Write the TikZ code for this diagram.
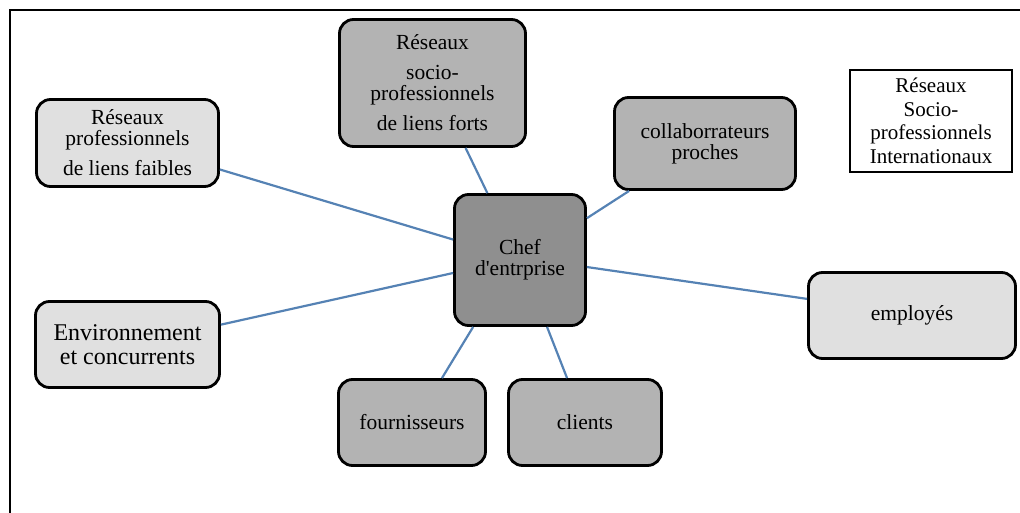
\documentclass[tikz,border=0pt]{standalone}
\usepackage{fontspec}
\setmainfont{Liberation Serif}
\usepackage{tikz}
\usetikzlibrary{positioning}

\definecolor{lightbox}{HTML}{E0E0E0}
\definecolor{midbox}{HTML}{B3B3B3}
\definecolor{darkbox}{HTML}{8F8F8F}
\definecolor{linkblue}{HTML}{5582B4}

\begin{document}
\begin{tikzpicture}[x=1pt,y=-1pt,
		box/.style={draw,line width=2.8pt,rounded corners=14pt,align=center,
			font=\fontsize{21.5}{21}\selectfont,inner sep=2pt},
		light box/.style={box,fill=lightbox},
		mid box/.style={box,fill=midbox},
		link/.style={draw=linkblue,line width=2.2pt}]
	\useasboundingbox (0,0) rectangle (1020,513);
	% open frame
	\draw[line width=2.4pt] (10,513) -- (10,10) -- (1020,10);
	
	\node[light box,minimum width=182pt,minimum height=87pt] (faibles) at (127.5,143)
		{Réseaux\\professionnels\\[9pt]de liens faibles};
	\node[mid box,minimum width=186pt,minimum height=127pt] (forts) at (432.5,83)
		{Réseaux\\[9pt]socio-\\professionnels\\[9pt]de liens forts};
	\node[mid box,minimum width=181pt,minimum height=92pt] (collab) at (705,143.5)
		{collaborrateurs\\proches};
	\node[draw,line width=1.5pt,minimum width=162pt,minimum height=102pt,align=center,
		font=\fontsize{21}{23.5}\selectfont] (intl) at (931,121)
		{Réseaux\\Socio-\\professionnels\\Internationaux};
	\node[box,fill=darkbox,minimum width=131pt,minimum height=131pt] (chef) at (520,260)
		{Chef\\d\textquotesingle entrprise};
	\node[light box,minimum width=184pt,minimum height=86pt,
		font=\fontsize{24}{24}\selectfont] (env) at (127.5,344.5)
		{Environnement\\et concurrents};
	\node[light box,minimum width=207pt,minimum height=86pt] (employes) at (912,315.5)
		{employés};
	\node[mid box,minimum width=147pt,minimum height=86pt] (fourn) at (412,422.5)
		{fournisseurs};
	\node[mid box,minimum width=153pt,minimum height=86pt] (clients) at (585,422.5)
		{clients};
	
	\path[link]
	(faibles.-16.3) edge (chef.163.4)
	(forts.-63.4) edge (chef.116.2)
	(collab.212.2) edge (chef.32.1)
	(chef.-6.7) edge (employes.171.6)
	(env.12.9) edge (chef.191)
	(fourn.56.9) edge (chef.235.5)
	(clients.112) edge (chef.-68);
\end{tikzpicture}
\end{document}
